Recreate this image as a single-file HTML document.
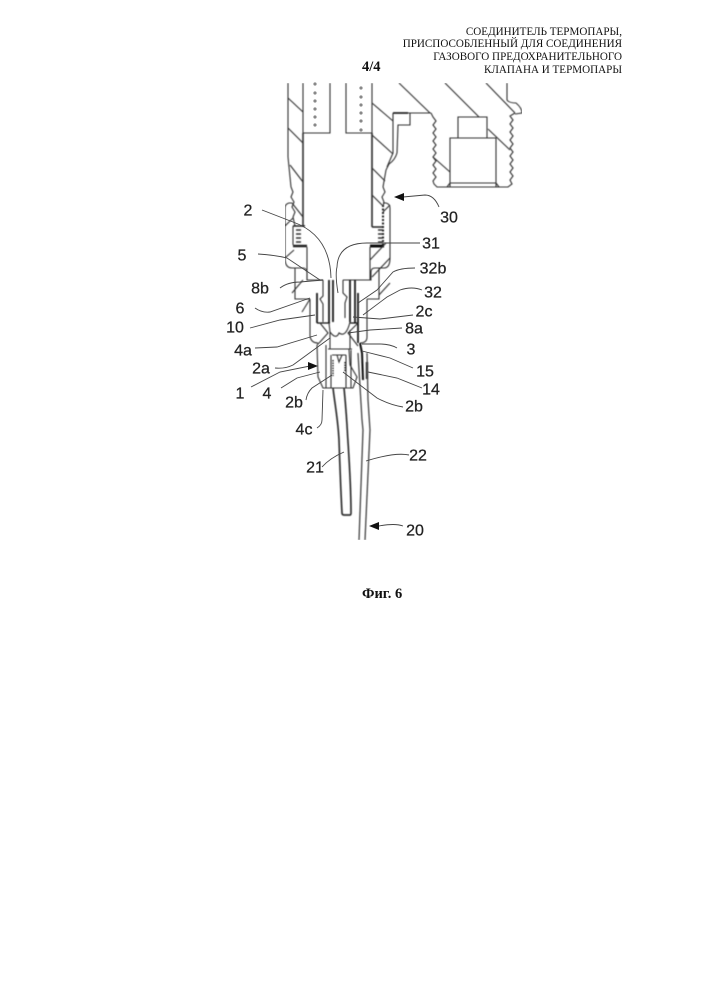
<!DOCTYPE html>
<html><head><meta charset="utf-8"><style>
html,body{margin:0;padding:0;background:#fff}
body{width:707px;height:1000px;position:relative;overflow:hidden}
svg{position:absolute;left:0;top:0}
.h{position:absolute;right:85px;font:11.1px/13px "Liberation Serif",serif;color:#111;white-space:nowrap}
.b{position:absolute;font:bold 14.5px "Liberation Serif",serif;color:#111;white-space:nowrap}
.l text{font:16px "Liberation Sans",sans-serif;fill:#222;stroke:#222;stroke-width:.25;text-anchor:middle;dominant-baseline:central}
</style></head><body>
<div class="h" style="top:26px">СОЕДИНИТЕЛЬ ТЕРМОПАРЫ,</div>
<div class="h" style="top:38px">ПРИСПОСОБЛЕННЫЙ ДЛЯ СОЕДИНЕНИЯ</div>
<div class="h" style="top:51px">ГАЗОВОГО ПРЕДОХРАНИТЕЛЬНОГО</div>
<div class="h" style="top:64px">КЛАПАНА И ТЕРМОПАРЫ</div>
<div class="b" style="left:362px;top:59px">4/4</div>
<div class="b" style="left:362px;top:586px">Фиг. 6</div>
<svg width="707" height="1000" viewBox="0 0 707 1000">
<defs><filter id="s" x="0" y="0" width="100%" height="100%"><feGaussianBlur stdDeviation="0.4"/></filter></defs>
<g filter="url(#s)" fill="none" stroke="#333" stroke-width="1.1">
<!-- upper body walls -->
<path d="M288 83V157L291 187L293 192L291 197L294 202L292 207L295 212L293 217L295 226"/>
<path d="M303 83V133M303 133H330V83M346 83V133H372M372 83V227"/>
<path d="M303 133V226" stroke="#333" stroke-width="1.6"/>
<path d="M372 133V227" stroke="#333" stroke-width="1.6"/>
<path d="M293 226H305M372 227H383" stroke="#222" stroke-width="1.5"/>
<path d="M393 113H410V125H398L397 153Q395 160 389 164L386 170L383 187L385 192L382 197L384 202L383 207"/>
<path d="M393 113V153L387 167"/>
<path d="M393 113H408" stroke="#111" stroke-width="1.6"/>
<path d="M410 113H431"/>
<path d="M383 205V245" stroke="#222" stroke-width="2" stroke-dasharray="2 1.5"/>
<!-- hatches -->
<path d="M288 98L303 112M288 128L303 143M290 165L303 182M292 203L303 217M285 226L293 218M372 103L393 121M372 135L393 154M372 168L385 181M372 195L383 206M383 212L390 205"/>
<!-- fitting at right -->
<path d="M431 113L433 117L436 121L433 125L436 129L433 133L436 137L433 141L436 145L433 149L436 153L433 157L436 161L433 165L436 169L433 173L436 177L433 181L434 184L437 187H508L512 184L510 180L513 176L510 172L513 168L510 164L513 160L510 156L513 152L510 148L513 144L510 140L513 136L510 132L513 128L510 124L513 120L510 116L515 113"/>
<path d="M450 187V138H496V187M458 138V117H487V138M450 183H496M450 183L447 187M496 183L499 187"/>
<path d="M507 83V100Q509 103 516 103Q522 108 522 113L515 114"/>
<path d="M399 83L430 113M445 83L479 117M486 83L515 113M488 129L510 150M433 157L450 172"/>
<!-- sleeve -->
<path d="M292 203H289Q285 204 285 208V258Q285 268 292 268H295V299H310"/>
<path d="M295 268H303Q306 268 307 272V280H323"/>
<path d="M293 226V245M307 247V280"/>
<path d="M296 230H301M296 234H301M296 238H301M296 242H301" stroke-width="1.6"/>
<path d="M293 246H307" stroke="#222" stroke-width="2.5"/>
<path d="M292 293L303 280M285 258L294 250"/>
<path d="M383 203H386Q390 204 390 208V258Q390 268 384 268H379V299H367"/>
<path d="M379 268H375Q371 268 371 272V280H343M370 247V280"/>
<path d="M378 230H383M378 234H383M378 238H383M378 242H383" stroke-width="1.6"/>
<path d="M370 246H384" stroke="#111" stroke-width="3"/>
<path d="M370 260L386 243M372 277L390 258M379 295L390 283"/>
<!-- interior -->
<path d="M317 293V323M329 280V323M333 280V322M350 280V322M355 280V323M358 293V343" stroke="#111" stroke-width="1.7"/>
<path d="M323 280V296L320 299L323 304V322M343 280V293L347 297L345 303V318"/>
<path d="M310 299V336Q311 343 318 343M310 299L302 312M367 299V337Q367 343 360 343"/>
<path d="M317 323H330M350 323H358" stroke="#111" stroke-width="1.3"/>
<path d="M329 323L330 332Q336 340 339 333Q346 338 350 322"/>
<path d="M320 323L328 333L320 342L317 345M358 323L348 333L358 346"/>
<path d="M330 332V349M350 330V349M328 349H352"/>
<path d="M317 345L318 377L323 388H353L357 377L350 365L349 349"/>
<path d="M326 345V388M331 355V388M346 355V388M332 355H346M337 355L339 362L342 355M351 350V388"/>
<path d="M345 362V372M333 360V376" stroke="#222" stroke-width="1.4" stroke-dasharray="1.5 1"/>
<path d="M360 343L362 353L363 380" stroke="#111" stroke-width="2"/>
<path d="M367 362V379" stroke="#333" stroke-width="2.5"/>
<path d="M358 353L362 420L363 430L359 540M367 353L368 400L370 430L365 540" stroke="#444" stroke-width="1.3"/>
<!-- wires -->
<path d="M333 388C335 405 338 420 339 440C340 470 341 495 342 513Q342 515 344 515H350Q351 515 351 513C351 480 348 445 347 425C346 410 345 398 344 388" stroke="#333" stroke-width="1.7"/>
</g>
<g fill="#888"><circle cx="315" cy="84" r="1.6"/><circle cx="315" cy="93" r="1.6"/><circle cx="315" cy="101" r="1.6"/><circle cx="315" cy="109" r="1.6"/><circle cx="315" cy="117" r="1.6"/><circle cx="315" cy="125" r="1.6"/><circle cx="361" cy="88" r="1.6"/><circle cx="361" cy="97" r="1.6"/><circle cx="361" cy="105" r="1.6"/><circle cx="361" cy="113" r="1.6"/><circle cx="361" cy="121" r="1.6"/><circle cx="361" cy="130" r="1.6"/></g>
<!-- leaders -->
<g fill="none" stroke="#444" stroke-width="0.9">
<path d="M262 210L293 222Q330 235 331 278"/>
<path d="M338 293Q335 275 337 267Q338 243 367 243H420"/>
<path d="M258 254Q275 255 287 258L320 280"/>
<path d="M280 288Q288 282 300 282L323 280"/>
<path d="M415 268Q400 268 393 272L377 290L358 303"/>
<path d="M422 290Q412 286 400 290L387 297L363 315"/>
<path d="M255 308Q262 313 270 312L310 298"/>
<path d="M413 315L380 319L353 317"/>
<path d="M250 328L280 320L315 315"/>
<path d="M402 328L370 330L348 333"/>
<path d="M255 348L277 347L317 335"/>
<path d="M397 348Q390 344 380 344H362"/>
<path d="M275 368Q285 369 293 365L330 338"/>
<path d="M413 368L390 358L362 351"/>
<path d="M251 387L280 372L310 366"/>
<path d="M281 388L297 378L320 372"/>
<path d="M422 388L397 378L368 372"/>
<path d="M306 400Q307 393 312 388L332 375"/>
<path d="M403 407Q390 405 377 398L343 372"/>
<path d="M317 428Q322 425 322 420L323 390"/>
<path d="M322 467Q330 458 344 452"/>
<path d="M409 455Q395 452 366 461"/>
<path d="M403 526Q395 523 379 526"/>
<path d="M439 207Q434 195 425 195L403 197"/>
</g>
<g fill="#111"><path d="M318 366L308 362V370Z"/><path d="M369 526L379 522V530Z"/><path d="M394 197L404 193V201Z"/></g>
<g class="l">
<text x="248" y="211">2</text><text x="449" y="218">30</text><text x="431" y="244">31</text>
<text x="242" y="256">5</text><text x="433" y="269">32b</text><text x="260" y="289">8b</text>
<text x="433" y="293">32</text><text x="240" y="309">6</text><text x="424" y="312">2c</text>
<text x="235" y="328">10</text><text x="414" y="329">8a</text><text x="243" y="351">4a</text>
<text x="411" y="350">3</text><text x="261" y="369">2a</text><text x="425" y="372">15</text>
<text x="240" y="394">1</text><text x="267" y="394">4</text><text x="431" y="390">14</text>
<text x="294" y="403">2b</text><text x="414" y="407">2b</text><text x="304" y="430">4c</text>
<text x="315" y="468">21</text><text x="418" y="456">22</text><text x="415" y="531">20</text>
</g>
</svg>
</body></html>
